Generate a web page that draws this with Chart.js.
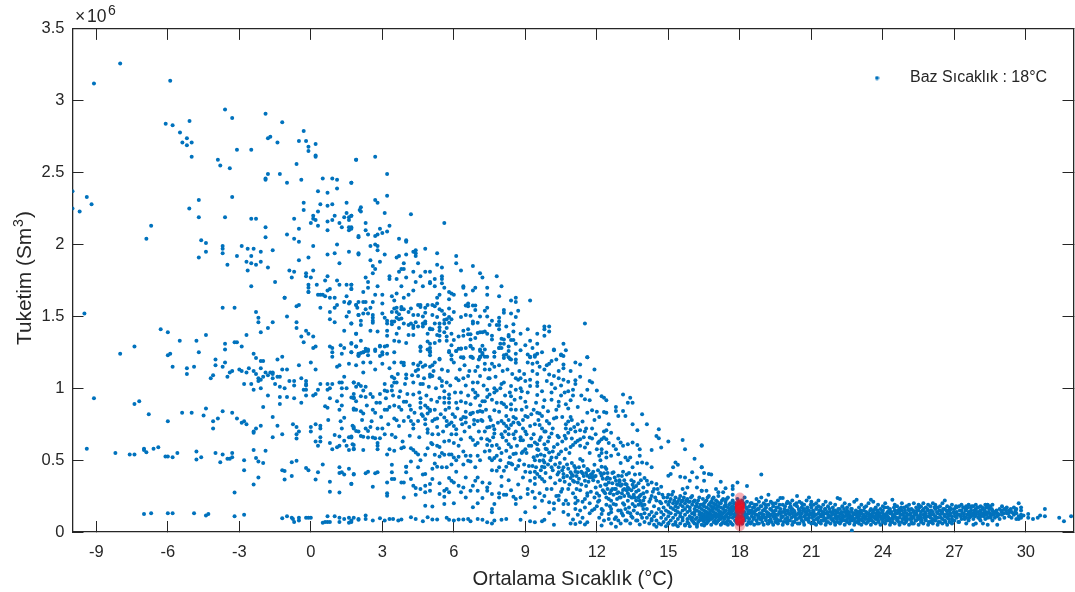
<!DOCTYPE html>
<html>
<head>
<meta charset="utf-8">
<style>
  html, body { margin: 0; padding: 0; background: #fff; }
  canvas { display: block; }
</style>
<script src="https://cdn.jsdelivr.net/npm/chart.js@4"></script>
</head>
<body>
<canvas id="scatterChart" width="1075" height="592"></canvas>
<script>
// Tick labels
const tempTicks = [-9, -6, -3, 0, 3, 6, 9, 12, 15, 18, 21, 24, 27, 30];
const consTicks = [0, 0.5, 1, 1.5, 2, 2.5, 3, 3.5];

// Points are [mean temperature in C, consumption in 10^6 Sm3]
const coldTop = [[-8,3.26],[-9.1,3.12],[-5.9,3.14],[-6.09,2.84],[-5.8,2.83],[-5.09,2.86],[-5.49,2.78],[-5.2,2.74],[-5.39,2.71],[-5.2,2.69],[-5,2.71],[-5,2.61],[-3.6,2.94],[-3.3,2.88],[-3.9,2.59],[-3.8,2.55],[-3.4,2.53],[-3.1,2.66],[-2.5,2.66],[-1.9,2.91],[-1.2,2.85],[-1.8,2.74],[-1.7,2.75],[-1.4,2.71],[-1.9,2.46],[-1.9,2.45],[-1.8,2.49],[-1.3,2.49],[-1,2.43],[-0.6,2.56],[-0.4,2.45],[-0.3,2.79],[-0.5,2.72],[-0.2,2.72],[-0.1,2.68],[-0.1,2.65],[0.2,2.7],[0.2,2.62],[0.2,2.61],[0.5,2.46],[0.9,2.46],[1.1,2.45],[1.7,2.43],[1.9,2.59],[-10,2.37],[-10,2.25],[-9.7,2.23],[-9.4,2.33],[-9.2,2.28],[-6.9,2.04],[-6.7,2.13],[-5.1,2.25],[-4.7,2.31],[-4.7,2.19],[-3.6,2.19],[-3.3,2.33],[-2.5,2.18],[-2.3,2.18],[-1.9,2.12],[-1.9,2.05],[-4.6,2.03],[-4.4,2.01],[-4.4,1.95],[-4.7,1.91],[-3.7,1.99],[-3.7,1.97],[-3.7,1.94],[-3.1,1.92],[-3.5,1.86],[-2.9,1.99],[-2.65,1.97],[-2.4,1.97],[-2.1,1.95],[-1.6,1.96],[-2.5,1.92],[-2.7,1.88],[-2.5,1.87],[-2.3,1.86],[-2.1,1.88],[-2.65,1.82],[-1.8,1.84],[-2.5,1.71],[-1.5,1.74],[-1.1,1.63],[-1,2.07],[-0.7,2.04],[-0.5,2.02],[-0.5,2.11],[-0.7,2.18],[0.1,1.99],[-0.1,1.91],[-0.5,1.89],[-0.9,1.82],[-0.7,1.81],[-0.8,1.77],[-0.2,1.8],[-0.2,1.78],[0,1.77],[0.1,1.82],[0.25,1.72],[-0.1,1.72],[-0.1,1.7],[-0.1,1.67],[-0.3,2.29],[-0.3,2.24],[0.3,2.37],[0.7,2.36],[1.1,2.39],[0.7,2.27],[0.4,2.28],[0.9,2.28],[0.3,2.23],[1.5,2.29],[1.5,2.22],[2.05,2.24],[0.1,2.2],[0.1,2.18],[0.2,2.17],[0,2.15],[0.3,2.13],[0.7,2.16],[1,2.2],[0.9,2.17],[1.2,2.15],[1.3,2.12],[0.7,2.1],[1.4,2.19],[1.6,2.19],[1.7,2.2],[1.6,2.17],[1.6,2.12],[1.7,2.11],[1.6,2.1],[2,2.05],[1.1,2],[1,1.94],[0.7,1.93],[1.6,1.95],[2,1.93],[1.2,1.87],[0.7,1.78],[0.6,1.75],[1.1,1.75],[1.5,1.72],[1.7,1.72],[1.7,1.69],[1.2,1.72],[0.8,1.69],[0.7,1.68],[0.3,1.65],[0.4,1.65],[0.5,1.65],[0.6,1.64],[0.8,1.63],[1,1.63],[1.5,1.64]];

const coldMiddle = [[-9.5,1.52],[-6.3,1.41],[-6,1.39],[-5.5,1.33],[-4.8,1.33],[-4.4,1.37],[-8,1.24],[-7.4,1.29],[-6,1.23],[-5.9,1.24],[-4.7,1.25],[-5.8,1.15],[-5.2,1.14],[-4.9,1.15],[-5.2,1.1],[-3.7,1.56],[-3.2,1.56],[-2.3,1.53],[-2.2,1.49],[-2.2,1.46],[-1.6,1.46],[-1.8,1.42],[-2.1,1.39],[-2.7,1.37],[-3.6,1.31],[-3.2,1.32],[-3.1,1.32],[-2.9,1.29],[-3.6,1.27],[-2.4,1.24],[-2.3,1.21],[-2.1,1.19],[-2,1.19],[-4,1.2],[-4,1.16],[-3.6,1.18],[-3.7,1.15],[-3,1.13],[-2.9,1.12],[-2.6,1.14],[-2.7,1.11],[-2.4,1.12],[-2.3,1.1],[-2.1,1.14],[-3.4,1.11],[-3.3,1.12],[-3.5,1.08],[-4.1,1.09],[-4.2,1.07],[-1.4,1.2],[-1.2,1.22],[-1.2,1.13],[-1,1.13],[-1.9,1.11],[-1.7,1.11],[-1.6,1.11],[-1.8,1.09],[-1.6,1.1],[-1.4,1.08],[-1.3,1.08],[-2,1.08],[-2.2,1.07],[-2.1,1.06],[-2.2,1.05],[-1.6,1.07],[-2.8,1.03],[-2.5,1.03],[-2.4,0.99],[-2.1,1],[-1.5,1.03],[-1.3,1.01],[-1.1,1],[-0.9,1.05],[-0.7,1.05],[-0.7,1.02],[-0.4,1.07],[-0.2,1.05],[-0.2,1.03],[-0.2,1.02],[-0.3,0.99],[-0.2,0.99],[-0.2,0.95],[0.1,0.95],[0.2,0.96],[0.3,0.99],[0.4,1.03],[-0.5,1.16],[0,1.18],[0.2,1.13],[-1,1.5],[-1.1,1.63],[-0.6,1.57],[-0.5,1.58],[-0.6,1.46],[-0.6,1.42],[-0.2,1.4],[-0.1,1.38],[-0.4,1.36],[0.1,1.36],[-0.3,1.32],[0.1,1.28],[0.2,1.29],[-0.1,1.67],[-1.8,0.95],[-1,0.94],[-1.3,0.94],[-1.3,0.89],[-0.7,0.93],[-0.4,0.9],[-2,0.87],[-9.1,0.93],[-7.2,0.91],[-7.4,0.89],[-6.8,0.82],[-6,0.77],[-5.4,0.83],[-5,0.83],[-4.5,0.81],[-4.4,0.86],[-4.1,0.77],[-4.1,0.72],[-3.9,0.79],[-3.7,0.84],[-3.3,0.83],[-3.1,0.79],[-2.9,0.76],[-2.8,0.77],[-2.7,0.75],[-2.1,0.74],[-2.3,0.72],[-2.4,0.7],[-2.4,0.69],[-1.6,0.8],[-1.4,0.74],[-1.6,0.66],[-1.2,0.68],[-0.75,0.75],[-0.6,0.73],[-0.5,0.7],[-0.6,0.68],[-0.6,0.65],[0,0.73],[0.2,0.75],[0,0.7],[0.4,0.74],[0.4,0.72],[0.4,0.66],[0.2,0.63],[0.4,0.63],[0.3,0.6]];

const coldLower = [[-9.4,0.58],[-8.2,0.55],[-7.6,0.54],[-7.4,0.54],[-7,0.58],[-7,0.57],[-6.9,0.555],[-6.6,0.58],[-6.4,0.59],[-6.1,0.525],[-6,0.525],[-5.8,0.52],[-5.6,0.55],[-4.8,0.56],[-4.8,0.505],[-4.6,0.52],[-4,0.55],[-3.7,0.54],[-3.8,0.485],[-3.5,0.51],[-3.4,0.51],[-3.3,0.55],[-3.3,0.52],[-2.8,0.5],[-2.8,0.43],[-2.4,0.57],[-1.9,0.565],[-2.3,0.515],[-2.2,0.49],[-2,0.48],[-2.2,0.38],[-2.4,0.33],[-3.2,0.275],[-1.2,0.43],[-1.1,0.425],[-1.1,0.365],[-0.8,0.39],[-0.8,0.485],[-0.6,0.495],[-0.2,0.445],[-0.1,0.43],[0.3,0.415],[0.5,0.47],[0.2,0.365],[0.8,0.35],[0.8,0.28],[1.2,0.275],[-7,0.125],[-6.7,0.13],[-6,0.13],[-5.8,0.13],[-4.9,0.13],[-4.4,0.115],[-4.3,0.125],[-3.2,0.11],[-2.8,0.12],[-1.2,0.095],[-1,0.11],[-0.8,0.1],[-0.75,0.09],[-0.7,0.07],[-0.5,0.1],[-0.5,0.08],[-0.2,0.1],[-0.1,0.1],[0,0.1],[0.5,0.065],[0.6,0.07],[0.7,0.07],[0.8,0.07],[0.7,0.11],[1,0.11],[1.2,0.1],[1.2,0.07],[1.4,0.09],[1.6,0.1],[1.6,0.065],[1.7,0.07],[1.8,0.1],[2,0.085]];

const nearZero = [[0.8,1.53],[0.8,1.48],[1,1.46],[0.4,1.56],[1,1.56],[1.1,1.58],[1.5,1.5],[1.6,1.53],[1.6,1.59],[1.4,1.6],[1.9,1.58],[2,1.51],[1.7,1.45],[1.4,1.4],[1.9,1.38],[1.7,1.31],[1.25,1.3],[1.4,1.28],[1.9,1.29],[2,1.24],[1.3,1.24],[1.7,1.25],[0.8,1.29],[0.9,1.28],[0.9,1.25],[0.9,1.22],[1.6,1.17],[1.2,1.16],[1.1,1.15],[1.4,1.08],[1.2,1.04],[1.3,1.04],[0.7,1.03],[0.9,1.03],[1.8,1.04],[1.9,1.01],[0.8,1],[0.7,0.99],[1.3,1],[1.5,1],[1.8,0.96],[1.8,0.93],[1.3,0.95],[1.1,0.91],[1.9,0.91],[0.8,0.93],[1.3,0.88],[1.2,0.85],[1.8,0.86],[1.9,0.85],[0.6,0.875],[0.7,0.865],[1.4,0.795],[1.25,0.77],[0.73,0.78],[1.3,0.72],[1.75,0.74],[1.8,0.72],[2,0.7],[1,0.675],[1.2,0.665],[1.4,0.635],[1.6,0.66],[1.7,0.665],[0.8,0.62],[1.2,0.6],[1.1,0.59],[0.9,0.575],[1.5,0.6],[1.8,0.605],[1.6,0.57],[1.8,0.58],[1.2,0.45],[1.6,0.44],[1.2,0.41],[1.3,0.415],[1.4,0.4],[1.8,0.4],[1.7,0.335]];

const mildTop = [[1.9,2.59],[2.7,2.61],[3.2,2.49],[1.7,2.43],[2.7,2.31],[2.8,2.29],[3.2,2.34],[2.1,2.26],[2.1,2.23],[3.1,2.22],[4.2,2.21],[5.6,2.15],[1.7,2.2],[2.3,2.15],[2.3,2.1],[2.9,2.11],[3.3,2.13],[3.2,2.09],[3,2.08],[2.4,2.07],[2,2.06],[2.7,2.06],[2.8,2.07],[1.7,2.12],[3.7,2.04],[4,2.03],[4,2.02],[2.7,2],[2.5,1.99],[2.8,1.99],[2.8,1.96],[4.4,1.96],[4.3,1.95],[4.8,1.97],[4.4,1.94],[4.4,1.92],[3.1,1.93],[2,1.94],[4,1.93],[3.7,1.92],[3.6,1.91],[5.3,1.94],[6.1,1.92],[6.1,1.87],[2.5,1.89],[2.9,1.88],[2.6,1.85],[2.7,1.83],[3.9,1.87],[4.5,1.87],[3.8,1.83],[3.9,1.83],[3.7,1.81],[4.3,1.81],[4.8,1.81],[5,1.81],[5.3,1.86],[5.5,1.84],[6.3,1.82],[6.8,1.85],[7.1,1.8],[7.2,1.77],[7.8,1.78],[2.6,1.8],[2.3,1.77],[3.3,1.78],[3.3,1.76],[3.6,1.76],[4,1.77],[4.6,1.78],[5.2,1.76],[5.5,1.78],[5.5,1.76],[4.4,1.74],[5,1.74],[5,1.73],[5.5,1.73],[5.2,1.71],[2.4,1.74],[2.4,1.7],[2.8,1.71],[1.7,1.72],[1.7,1.69],[3.8,1.71],[4.7,1.71],[5.6,1.7],[6.4,1.71],[6.4,1.7],[6.9,1.7],[6.8,1.68],[7.4,1.7],[8,1.71],[5.8,1.67],[5.9,1.66],[6,1.65],[6.5,1.65],[7.4,1.65],[7.9,1.64],[8.6,1.63],[8.6,1.6],[8.4,1.61],[9.2,1.61],[2.2,1.67],[2.7,1.65],[3,1.65],[3.4,1.64],[3.6,1.66],[3.9,1.63],[4.1,1.65],[4.3,1.68],[5.3,1.63],[5.4,1.65],[5.8,1.62]];

const mildUpper = [[3.5,1.61],[3,1.59],[2.2,1.6],[2,1.6],[2.3,1.6],[2.6,1.6],[1.9,1.58],[1.95,1.56],[1.64,1.6],[2.3,1.55],[2.5,1.56],[2.2,1.52],[2.4,1.52],[2,1.51],[3,1.52],[3.1,1.49],[2.6,1.51],[2.6,1.49],[2.6,1.47],[2.6,1.455],[2.1,1.47],[2.1,1.44],[1.7,1.45],[3.2,1.47],[3.2,1.45],[3.4,1.465],[3.5,1.465],[3.4,1.445],[3.5,1.555],[3.6,1.56],[3.8,1.565],[3.8,1.55],[3.9,1.55],[4.2,1.555],[3.6,1.53],[3.7,1.515],[3.4,1.53],[4.1,1.53],[4.3,1.51],[4.5,1.51],[3.6,1.49],[3.8,1.485],[3.7,1.48],[3.9,1.45],[3.7,1.42],[4.2,1.45],[4.3,1.435],[4.3,1.42],[4.4,1.46],[4.5,1.43],[4.7,1.5],[4.8,1.525],[4.5,1.58],[4.6,1.58],[4.9,1.58],[4.6,1.565],[4.8,1.56],[5.1,1.58],[5.3,1.59],[5.2,1.57],[5.1,1.51],[5.3,1.495],[5.4,1.55],[5.5,1.54],[5.6,1.515],[5.8,1.555],[6,1.53],[5.8,1.495],[5.7,1.48],[5.6,1.475],[5.9,1.48],[5.8,1.455],[5.6,1.45],[5.4,1.45],[5.4,1.425],[5.4,1.4],[5.7,1.42],[4.8,1.465],[4.7,1.45],[4.8,1.45],[4.7,1.43],[5,1.415],[5.1,1.41],[5,1.41],[5.9,1.38],[5.6,1.39],[5.3,1.37],[5.4,1.365],[5.7,1.36],[5.7,1.33],[6,1.335],[6.2,1.36],[6.4,1.4],[6.4,1.365],[6.6,1.41],[6.6,1.375],[6.7,1.375],[6.7,1.34],[6.5,1.575],[6.6,1.59],[6.6,1.57],[6.8,1.575],[6.9,1.575],[6.9,1.545],[6.5,1.51],[6.3,1.495],[6.7,1.505],[7.1,1.5],[7.3,1.54],[7.4,1.56],[7.4,1.5],[6.8,1.465],[6.8,1.45],[7,1.455],[7,1.385],[7.1,1.39],[7.2,1.39],[7.3,1.395],[7.4,1.38],[7.6,1.365],[7.6,1.34],[7.9,1.49],[7.9,1.465],[7.8,1.44],[7.9,1.44],[7.9,1.41],[8.1,1.545],[8.1,1.525],[8.4,1.52],[8.7,1.54],[8.6,1.495],[8.5,1.445],[8.5,1.395],[8.3,1.37],[8.3,1.36],[8,1.345],[8.1,1.34],[8.4,1.335],[8.5,1.335],[8.6,1.31],[7.95,1.31],[8.1,1.31],[7.9,1.28],[8,1.28],[8.3,1.29],[8.3,1.26],[8.8,1.265],[8.6,1.24],[9.1,1.41],[9.1,1.235],[9.5,1.38],[9.8,1.43],[10,1.43],[9.8,1.41],[10,1.395],[9.8,1.365],[9.5,1.31],[10.2,1.27],[10.6,1.31],[10.7,1.265],[10.5,1.235],[10.6,1.225],[11.5,1.45],[11.6,1.215],[9.5,1.24],[9.2,1.215],[9.4,1.22]];

const mildShoulder = [[1.7,1.315],[1.9,1.29],[2.1,1.33],[1.7,1.25],[2,1.225],[2.2,1.25],[2.3,1.275],[2.4,1.26],[2.4,1.23],[2.7,1.26],[2.9,1.295],[2.9,1.225],[3,1.25],[3.2,1.295],[3.2,1.24],[3.5,1.25],[3.5,1.33],[3.7,1.325],[4,1.315],[4.1,1.37],[4.3,1.37],[2.8,1.395],[1.9,1.38],[3.2,1.4],[3.2,1.365],[4.6,1.29],[4.6,1.26],[4.9,1.325],[5,1.31],[5.2,1.315],[5.4,1.33],[4.9,1.27],[5,1.26],[5,1.23],[5.8,1.25],[6.1,1.26],[6.2,1.275],[6.3,1.275],[6.5,1.28],[6.7,1.295],[6.8,1.275],[7.1,1.27],[7.2,1.295],[7.3,1.27],[7.2,1.245],[7.7,1.25],[7.7,1.22],[7.4,1.22],[7.1,1.22],[6.7,1.22],[6.8,1.21],[6.3,1.215],[6.4,1.215],[5.4,1.205],[5.9,1.2],[8.1,1.21],[8.2,1.235],[8.35,1.205],[8.6,1.2]];

const midHigh = [[2,1.23],[2.1,1.246],[2.2,1.25],[2.3,1.26],[2.4,1.27],[2.7,1.27],[2.9,1.29],[3,1.235],[3.1,1.29],[2.2,1.18],[2.5,1.18],[1.9,1.16],[2.7,1.13],[2.2,1.11],[3,1.17],[3.3,1.14],[3.5,1.18],[3.8,1.18],[3.9,1.177],[3.9,1.16],[4.3,1.17],[4.6,1.18],[4.5,1.16],[4.5,1.13],[4.7,1.15],[4.8,1.16],[5,1.15],[5.2,1.18],[5.1,1.16],[5.4,1.2],[5,1.28],[5,1.25],[4.6,1.285],[5.9,1.23],[5.8,1.26],[6.1,1.26],[6.3,1.276],[6.4,1.21],[6.7,1.29],[6.75,1.22],[7.1,1.26],[7.2,1.235],[7.3,1.22],[7.1,1.216],[7.7,1.25],[7.9,1.28],[8.1,1.23],[8.3,1.216],[8.4,1.2],[8.6,1.177],[9.2,1.22],[9.4,1.23],[9.1,1.18],[9.3,1.17],[9.5,1.18],[10,1.17],[10.1,1.19],[10.2,1.265],[10.5,1.23],[10.6,1.165],[10.6,1.14],[11.6,1.215],[11.1,1.18],[11.3,1.165],[11.9,1.13],[9.9,1.16],[2.1,1.015],[2.3,1.01],[1.8,1.04],[2,1.03],[2.2,0.985],[1.8,0.935],[2.1,0.945],[2.3,0.94],[2.5,0.96],[2.6,0.94],[2.9,0.96],[2.9,0.9],[3.1,1.03],[3.1,0.985],[3.4,1.015],[3.2,0.98],[3.4,0.985],[3.5,1.07],[3.4,1.08],[3.5,1.04],[3.6,1.04],[4.3,1.04],[4,1.096],[4,1.07],[4.6,1.03],[4.7,1.03],[4.5,1.085],[5,1.096],[5,1.08],[5.1,1.085],[5.4,1.07],[5.5,1.05],[5.5,1.015],[5.7,1.04],[6.1,1.07],[6.2,1.055],[6.4,1.07],[6.6,1.085],[6.8,1.04],[7,1.04],[7.1,1.085],[7,1.15],[7.3,1.13],[7.5,1.13],[7.7,1.15],[7.5,1.07],[8.1,1.04],[8.4,1.015],[8.8,1.07],[9,1.05],[9.2,1.06],[9.5,1.04],[9.5,1.015],[9.8,1.13],[10,1.096],[10.2,1.085],[10.4,1.07],[10.6,1.06],[10.8,1.045],[11.1,1.055],[11.1,1.03],[11.7,1.05],[11.8,1.04],[11.6,0.99],[12,0.985],[8.8,1],[8.6,0.99],[9.2,1.015],[10.1,1.03],[10.5,1.02],[10.8,0.98],[8.6,1.07],[8.7,1.06],[8,1.03],[7.7,1],[7.4,0.99]];

const midCentre = [[1.7,0.935],[1.8,0.85],[2.1,0.84],[2.2,0.825],[2.6,0.85],[2.7,0.83],[3.1,0.85],[3.2,0.85],[3.3,0.87],[3.5,0.88],[3.7,0.87],[3.8,0.85],[4.2,0.85],[3.9,0.907],[3.7,0.94],[4,0.907],[4.3,0.957],[4.6,0.93],[4.6,0.9],[4.6,0.865],[4.8,0.88],[4.9,0.865],[5,0.85],[5.3,0.907],[5.4,0.934],[5.6,0.934],[5.6,0.9],[5.8,0.957],[5.8,0.93],[5.8,0.9],[5.8,0.865],[5.2,0.85],[6.1,0.9],[6.3,0.91],[6.5,0.9],[6.7,0.888],[6.9,0.934],[6.9,0.97],[7.2,0.91],[7.3,0.91],[7.5,0.957],[7.7,0.97],[7.8,0.985],[8,0.9],[8.1,0.888],[8.4,0.945],[8.4,0.888],[8.8,0.934],[9,0.907],[9.5,0.953],[9.8,0.916],[10.1,0.97],[10.4,0.907],[10.4,0.877],[10.7,0.888],[10.9,0.916],[11.5,0.923],[11.7,0.916],[12.2,0.945],[12.3,0.934],[12.4,0.916],[13.1,0.957],[13.4,0.934],[13.3,0.9],[13.5,0.9],[11.8,0.847],[12,0.837],[12.3,0.835],[12.4,0.83],[12.8,0.87],[12.8,0.842],[13.1,0.842],[12.9,0.807],[13.2,0.807],[13.9,0.82],[13.5,0.75],[14.1,0.75],[13.7,0.708],[14.6,0.715],[14.5,0.668],[14.6,0.652],[15.6,0.64],[15.7,0.576],[15,0.63],[14.7,0.588],[16.4,0.604],[16.1,0.51],[14.3,0.57],[3.5,0.79],[3.6,0.777],[3.9,0.773],[4.1,0.8],[4.2,0.773],[4.3,0.75],[4.3,0.72],[4.5,0.773],[4.7,0.807],[4.8,0.784],[4.9,0.824],[5,0.842],[5.1,0.773],[5.2,0.784],[5.3,0.79],[4.8,0.75],[4.9,0.715],[4.9,0.69],[5.1,0.68],[3.7,0.738],[3.4,0.676],[3.1,0.68],[2.9,0.652],[3,0.72],[2.8,0.72],[2.5,0.73],[2.4,0.703],[2.3,0.72],[2.1,0.668],[2.2,0.662],[2.4,0.657],[2.6,0.657],[2.7,0.652],[1.8,0.73],[1.9,0.703],[1.7,0.657],[5.6,0.796],[5.7,0.773],[5.8,0.75],[5.9,0.761],[5.7,0.738],[6,0.738],[6.1,0.715],[6.1,0.68],[5.9,0.68],[6.3,0.784],[6.5,0.837],[6.5,0.796],[6.7,0.824],[6.8,0.83],[7,0.837],[7.1,0.842],[7.2,0.837],[7,0.773],[7.2,0.773],[6.5,0.761],[7.4,0.727],[7.5,0.73],[7.3,0.7],[7.7,0.715],[7.7,0.685],[8,0.773],[8.1,0.754],[8.2,0.738],[8.3,0.72],[8.4,0.745],[8.5,0.761],[8.6,0.79],[8.2,0.807],[7.9,0.837],[7.7,0.847],[8.4,0.853],[8.5,0.8],[8.3,0.68],[8.6,0.7],[9,0.807],[9.1,0.8],[8.9,0.72],[9,0.7],[9.2,0.738],[9.4,0.75],[9.6,0.745],[9.7,0.72],[9.5,0.83],[9.6,0.824],[9.7,0.807],[9.9,0.773],[10,0.754],[10.2,0.79],[10.3,0.796],[10.1,0.685],[10.7,0.75],[10.8,0.768],[10.9,0.8],[10.7,0.72],[10.8,0.69],[10.9,0.715],[11.2,0.75],[11.4,0.768],[11.3,0.708],[11.8,0.72],[12.3,0.7],[12.4,0.708],[12.6,0.69],[12.2,0.645],[12.4,0.645],[12.1,0.63],[12.3,0.657]];

const midLow = [[2.2,0.57],[1.75,0.61],[1.8,0.576],[2.8,0.62],[2.8,0.6],[2.8,0.576],[3.3,0.576],[3.2,0.54],[3.5,0.565],[3.8,0.583],[3.9,0.59],[4.2,0.583],[4.3,0.57],[4.4,0.553],[4.5,0.54],[4.6,0.5],[4,0.454],[4.2,0.49],[4.9,0.583],[5.1,0.61],[5.3,0.6],[5.4,0.592],[4.8,0.537],[5.2,0.537],[5.4,0.525],[5.6,0.537],[5.8,0.54],[5.9,0.54],[6,0.518],[6.1,0.5],[6.2,0.523],[5.8,0.634],[5.6,0.63],[6,0.62],[6.3,0.645],[6.5,0.53],[6.7,0.53],[6.6,0.495],[6.7,0.49],[6.4,0.47],[7,0.53],[5.2,0.477],[5.3,0.454],[5.5,0.45],[5.7,0.45],[6.8,0.64],[7,0.62],[6.9,0.606],[6.7,0.657],[7.4,0.645],[7.5,0.634],[7.4,0.606],[7.6,0.6],[7.5,0.565],[7.5,0.514],[7.6,0.5],[7.7,0.514],[7.8,0.53],[8.2,0.634],[8.3,0.61],[8.5,0.542],[8.6,0.546],[8.8,0.638],[8.9,0.638],[9,0.576],[8.2,0.565],[8.4,0.592],[7.9,0.583],[7.8,0.606],[9.4,0.622],[9.5,0.61],[9.5,0.576],[9.5,0.53],[9.4,0.5],[9.6,0.495],[9.8,0.61],[9.9,0.576],[10,0.553],[10.2,0.592],[10.1,0.518],[9.8,0.53],[9.8,0.484],[9.7,0.454],[10.4,0.541],[10.3,0.518],[10.5,0.56],[10.7,0.576],[10.9,0.592],[11.1,0.622],[11.3,0.645],[11,0.606],[11.2,0.634],[11.5,0.588],[11.6,0.615],[11.7,0.657],[12,0.576],[12.2,0.576],[12.4,0.553],[12.6,0.53],[12.4,0.518],[12.1,0.53],[12.8,0.576],[13,0.622],[13.1,0.6],[13.3,0.61],[13.5,0.622],[13.7,0.606],[12.9,0.541],[13.2,0.518],[13.4,0.518],[13.8,0.576],[13.8,0.53],[11.3,0.507],[11.4,0.495],[10.4,0.45],[10.6,0.45],[10.8,0.44],[11.1,0.445],[11.6,0.438],[11.9,0.467],[12.2,0.454],[12.4,0.438],[12.7,0.415],[12.9,0.392],[7.9,0.45],[8.2,0.454],[8.4,0.477],[8.6,0.438],[8.1,0.426],[7.8,0.426],[8,0.385],[9,0.42],[9.3,0.46],[9.2,0.415],[9.4,0.42],[9.5,0.403],[9.6,0.385],[9.7,0.368],[9.8,0.352],[9.4,0.375],[9.2,0.357],[9.4,0.334],[9.8,0.45],[10.1,0.45],[10.4,0.415],[10.6,0.403],[10.6,0.38],[10.9,0.415],[11,0.392],[11.1,0.42],[11.2,0.415],[11.4,0.408],[11.6,0.392],[11.8,0.403],[11.7,0.38],[11.8,0.38],[11.9,0.385],[10.9,0.375],[11,0.357],[11.2,0.345],[11.5,0.357],[12.2,0.392],[12.3,0.408],[12.4,0.368],[12.5,0.345],[12.4,0.329],[12.8,0.357],[12.9,0.329],[13,0.322],[13.2,0.334],[13.3,0.31],[12.8,0.3],[12.6,0.287],[13.1,0.292],[13.5,0.329],[13.8,0.403],[13.9,0.484],[14.1,0.477],[14.3,0.45],[14,0.375],[14.1,0.357],[14.3,0.345],[14.5,0.334],[14.7,0.315],[14.4,0.3],[15,0.392],[15.1,0.403],[15.2,0.45],[15.3,0.484],[15.4,0.467],[15.5,0.385],[15.7,0.38],[15.9,0.357],[16,0.415],[16.4,0.45],[16.2,0.38],[16.5,0.357],[16.7,0.403],[15.8,0.31],[15.6,0.3],[16.2,0.31],[16.4,0.287]];

const midFloor = [[1.8,0.403],[2.3,0.408],[2.4,0.42],[2.7,0.408],[2.8,0.415],[1.7,0.334],[2.6,0.315],[3.4,0.467],[3.4,0.415],[3.4,0.368],[3.5,0.368],[3.2,0.345],[3.2,0.27],[3.2,0.253],[3.9,0.345],[4,0.415],[4,0.454],[4.2,0.368],[3.8,0.345],[4.3,0.322],[4.4,0.306],[4.8,0.403],[4.6,0.3],[4.8,0.322],[4.8,0.276],[5,0.287],[5.1,0.368],[5,0.334],[5.4,0.264],[5.6,0.287],[5.6,0.246],[5.6,0.195],[5.7,0.3],[5.8,0.375],[5.9,0.357],[5.8,0.276],[6,0.345],[6.2,0.322],[6.4,0.31],[6.3,0.276],[6.7,0.287],[6.8,0.322],[6.9,0.357],[7,0.287],[7.2,0.345],[7.4,0.31],[7.2,0.237],[7.4,0.287],[3.9,0.24],[4.8,0.183],[5.1,0.177],[6.8,0.172],[7.6,0.264],[7.9,0.27],[7.9,0.24],[8.1,0.26],[8.2,0.26],[8.5,0.246],[8.6,0.23],[8.8,0.24],[7.7,0.195],[7.6,0.16],[7.6,0.137],[8.6,0.195],[9,0.137],[9.1,0.264],[9.4,0.237],[9.7,0.218],[10,0.207],[10.2,0.2],[10.4,0.253],[10.4,0.223],[10.6,0.195],[10.8,0.195],[10,0.133],[9.4,0.172],[11.1,0.2],[11.2,0.218],[11.1,0.16],[11.3,0.15],[11.7,0.13],[11.8,0.15],[11.9,0.16],[11.5,0.23],[11.6,0.253],[12,0.27],[12.1,0.253],[12.4,0.24],[12.6,0.218],[12.7,0.195],[12.2,0.126],[12.5,0.126],[12.6,0.137],[12.8,0.103],[13,0.15],[13.1,0.114],[13.3,0.137],[13.5,0.195],[13.6,0.24],[13.8,0.218],[13.9,0.183],[13.3,0.218],[12.9,0.276],[1.7,0.08],[2,0.09],[2.3,0.115],[2.3,0.09],[2.6,0.08],[2.9,0.095],[3.1,0.08],[3.3,0.09],[3.45,0.09],[3.67,0.08],[3.8,0.087],[4.2,0.103],[4.4,0.09],[4.7,0.075],[4.9,0.103],[5.1,0.087],[5.3,0.087],[5.7,0.1],[5.8,0.085],[6,0.08],[6.2,0.087],[6.4,0.087],[6.6,0.09],[6.7,0.075],[7,0.09],[7.2,0.085],[7.4,0.068],[7.6,0.06],[7.7,0.08],[8,0.085],[8.2,0.09],[8.8,0.085],[9.2,0.075],[9.4,0.068],[9.7,0.075],[9.8,0.085],[10.2,0.05],[10.9,0.06],[11,0.087],[11.1,0.056],[11.3,0.068],[11.5,0.052],[11.6,0.068],[12.2,0.045],[12.6,0.06],[12.8,0.037],[13,0.06],[13.4,0.06],[13.8,0.052]];

const transitionBand = [[14,0.07],[14,0.13],[14,0.19],[14,0.24],[14.1,0.1],[14.1,0.16],[14.1,0.28],[14.2,0.06],[14.2,0.21],[14.2,0.12],[14.3,0.14],[14.3,0.09],[14.3,0.25],[14.4,0.18],[14.4,0.05],[14.4,0.11],[14.5,0.22],[14.5,0.13],[14.5,0.08],[14.6,0.16],[14.6,0.27],[14.6,0.06],[14.7,0.1],[14.7,0.2],[14.7,0.14],[14.8,0.07],[14.8,0.17],[14.8,0.24],[14.8,0.12],[14.9,0.09],[14.9,0.15],[14.9,0.21],[14.9,0.04],[15,0.11],[15,0.19],[15,0.06],[15,0.26],[15,0.14],[15.1,0.13],[15.1,0.08],[15.1,0.17],[15.1,0.23],[15.2,0.1],[15.2,0.16],[15.2,0.2],[15.2,0.05],[15.2,0.28],[15.3,0.12],[15.3,0.07],[15.3,0.18],[15.3,0.15],[15.3,0.24],[15.4,0.09],[15.4,0.14],[15.4,0.21],[15.4,0.04],[15.4,0.17],[15.5,0.11],[15.5,0.19],[15.5,0.06],[15.5,0.25],[15.5,0.13],[15.6,0.15],[15.6,0.08],[15.6,0.22],[15.6,0.1],[15.6,0.18],[15.7,0.12],[15.7,0.2],[15.7,0.05],[15.7,0.16],[15.7,0.27],[15.8,0.09],[15.8,0.14],[15.8,0.18],[15.8,0.07],[15.8,0.23],[15.9,0.11],[15.9,0.21],[15.9,0.15],[15.9,0.04],[15.9,0.17],[16,0.13],[16,0.08],[16,0.19],[16,0.25],[16,0.1],[16.1,0.16],[16.1,0.06],[16.1,0.22],[16.1,0.12],[16.1,0.14],[16.2,0.1],[16.2,0.18],[16.2,0.05],[16.2,0.2],[16.2,0.15],[16.3,0.12],[16.3,0.08],[16.3,0.17],[16.3,0.24],[16.3,0.14],[16.4,0.09],[16.4,0.19],[16.4,0.16],[16.4,0.05],[16.4,0.11],[16.4,0.13],[16.5,0.15],[16.5,0.07],[16.5,0.2],[16.5,0.12],[16.5,0.18],[16.5,0.1],[16.6,0.11],[16.6,0.17],[16.6,0.06],[16.6,0.22],[16.6,0.14],[16.6,0.09],[16.7,0.13],[16.7,0.19],[16.7,0.08],[16.7,0.16],[16.7,0.25],[16.7,0.1],[16.8,0.12],[16.8,0.05],[16.8,0.18],[16.8,0.15],[16.8,0.21],[16.8,0.09],[16.9,0.14],[16.9,0.07],[16.9,0.2],[16.9,0.11],[16.9,0.17],[16.9,0.24],[17,0.1],[17,0.16],[17,0.06],[17,0.13],[17,0.19],[17,0.22],[17.1,0.12],[17.1,0.08],[17.1,0.18],[17.1,0.15],[17.1,0.25],[17.2,0.09],[17.2,0.14],[17.2,0.2],[17.2,0.05],[17.2,0.17],[17.2,0.11],[17.3,0.13],[17.3,0.07],[17.3,0.16],[17.3,0.23],[17.3,0.1],[17.4,0.11],[17.4,0.19],[17.4,0.06],[17.4,0.15],[17.4,0.21],[17.4,0.18],[17.5,0.08],[17.5,0.13],[17.5,0.17],[17.5,0.05],[17.5,0.24],[17.5,0.1],[17.6,0.12],[17.6,0.16],[17.6,0.07],[17.6,0.2],[17.6,0.14],[17.7,0.1],[17.7,0.18],[17.7,0.05],[17.7,0.22],[17.7,0.15],[17.7,0.26],[17.8,0.13],[17.8,0.08],[17.8,0.17],[17.8,0.11],[17.8,0.2],[17.9,0.09],[17.9,0.15],[17.9,0.06],[17.9,0.19],[17.9,0.23],[17.9,0.12],[18,0.11],[18,0.14],[18,0.07],[18,0.2],[16.4,0.6],[16.4,0.45],[16.5,0.41],[16.8,0.4],[17.2,0.35],[17.7,0.32],[17.7,0.3],[17.9,0.345],[18.3,0.32],[18.9,0.4],[17,0.3],[17.4,0.305],[16.4,0.287],[16.6,0.287],[17.1,0.276],[17.3,0.276],[14.3,0.08],[14.5,0.037],[14.7,0.052],[15,0.06],[15.3,0.052],[15.7,0.045],[16.2,0.037],[16.5,0.045]];

const warmBandA = [[18.1,0.06],[18.1,0.11],[18.1,0.17],[18.1,0.22],[18.2,0.08],[18.2,0.14],[18.2,0.19],[18.2,0.24],[18.3,0.05],[18.3,0.12],[18.3,0.16],[18.3,0.21],[18.4,0.09],[18.4,0.13],[18.4,0.18],[18.5,0.07],[18.5,0.11],[18.5,0.15],[18.5,0.2],[18.6,0.05],[18.6,0.1],[18.6,0.14],[18.6,0.17],[18.7,0.08],[18.7,0.12],[18.7,0.19],[18.7,0.23],[18.8,0.06],[18.8,0.11],[18.8,0.16],[18.8,0.21],[18.9,0.09],[18.9,0.13],[18.9,0.18],[18.9,0.24],[19,0.05],[19,0.12],[19,0.15],[19,0.2],[19.1,0.08],[19.1,0.1],[19.1,0.17],[19.1,0.22],[19.2,0.06],[19.2,0.13],[19.2,0.19],[19.2,0.26],[19.3,0.09],[19.3,0.12],[19.3,0.16],[19.3,0.21],[19.4,0.05],[19.4,0.11],[19.4,0.14],[19.4,0.18],[19.5,0.07],[19.5,0.1],[19.5,0.15],[19.5,0.2],[19.6,0.06],[19.6,0.12],[19.6,0.17],[19.6,0.22],[19.7,0.08],[19.7,0.13],[19.7,0.16],[19.7,0.237],[19.8,0.05],[19.8,0.11],[19.8,0.19],[19.8,0.237],[19.9,0.09],[19.9,0.14],[19.9,0.18],[20,0.06],[20,0.1],[20,0.15],[20,0.21],[20.1,0.08],[20.1,0.12],[20.1,0.17],[20.1,0.2],[20.2,0.05],[20.2,0.13],[20.2,0.16],[20.2,0.22],[20.3,0.07],[20.3,0.11],[20.3,0.14],[20.3,0.19],[20.4,0.09],[20.4,0.12],[20.4,0.18],[20.4,0.25],[20.5,0.06],[20.5,0.1],[20.5,0.15],[20.5,0.21],[20.6,0.08],[20.6,0.13],[20.6,0.17],[20.6,0.2],[20.7,0.05],[20.7,0.11],[20.7,0.16],[20.7,0.19],[20.8,0.09],[20.8,0.12],[20.8,0.14],[20.8,0.22],[20.9,0.07],[20.9,0.1],[20.9,0.15],[20.9,0.24],[21,0.06],[21,0.13],[21,0.17],[21,0.21],[21.1,0.08],[21.1,0.11],[21.1,0.14],[21.1,0.19],[21.2,0.05],[21.2,0.09],[21.2,0.12],[21.2,0.16],[21.2,0.2],[21.3,0.07],[21.3,0.1],[21.3,0.13],[21.3,0.18],[21.3,0.22],[21.4,0.06],[21.4,0.11],[21.4,0.15],[21.4,0.17],[21.5,0.08],[21.5,0.12],[21.5,0.14],[21.5,0.19],[21.6,0.05],[21.6,0.09],[21.6,0.13],[21.6,0.16],[21.6,0.21],[21.7,0.07],[21.7,0.1],[21.7,0.12],[21.7,0.18],[21.8,0.06],[21.8,0.11],[21.8,0.14],[21.8,0.2],[21.9,0.08],[21.9,0.09],[21.9,0.13],[21.9,0.17],[22,0.05],[22,0.1],[22,0.12],[22,0.15],[22,0.19],[22.1,0.07],[22.1,0.11],[22.1,0.14],[22.1,0.237],[22.2,0.06],[22.2,0.09],[22.2,0.13],[22.2,0.16],[22.2,0.23],[22.3,0.08],[22.3,0.1],[22.3,0.12],[22.3,0.18],[22.4,0.05],[22.4,0.11],[22.4,0.14],[22.4,0.2],[22.5,0.07],[22.5,0.09],[22.5,0.13],[22.5,0.15],[22.5,0.17],[22.6,0.06],[22.6,0.1],[22.6,0.12],[22.6,0.19],[22.7,0.01],[22.7,0.08],[22.7,0.11],[22.7,0.14],[22.7,0.16],[22.8,0.05],[22.8,0.09],[22.8,0.13],[22.8,0.21],[22.9,0.07],[22.9,0.1],[22.9,0.12],[22.9,0.225]];

const warmBandB = [[23,0.06],[23,0.08],[23,0.11],[23,0.14],[23,0.17],[23.1,0.05],[23.1,0.09],[23.1,0.13],[23.1,0.19],[23.2,0.07],[23.2,0.1],[23.2,0.12],[23.2,0.15],[23.3,0.06],[23.3,0.11],[23.3,0.14],[23.3,0.18],[23.4,0.08],[23.4,0.09],[23.4,0.13],[23.4,0.2],[23.5,0.05],[23.5,0.1],[23.5,0.12],[23.5,0.16],[23.5,0.225],[23.6,0.07],[23.6,0.11],[23.6,0.15],[23.6,0.21],[23.7,0.06],[23.7,0.09],[23.7,0.13],[23.7,0.17],[23.8,0.08],[23.8,0.1],[23.8,0.12],[23.8,0.14],[23.8,0.19],[23.9,0.05],[23.9,0.11],[23.9,0.16],[24,0.07],[24,0.09],[24,0.13],[24,0.15],[24,0.18],[24.1,0.06],[24.1,0.1],[24.1,0.12],[24.1,0.2],[24.2,0.08],[24.2,0.11],[24.2,0.14],[24.2,0.17],[24.3,0.05],[24.3,0.09],[24.3,0.13],[24.3,0.16],[24.4,0.07],[24.4,0.1],[24.4,0.12],[24.4,0.225],[24.5,0.06],[24.5,0.11],[24.5,0.15],[24.5,0.19],[24.6,0.08],[24.6,0.09],[24.6,0.13],[24.6,0.18],[24.7,0.05],[24.7,0.1],[24.7,0.14],[24.7,0.16],[24.8,0.07],[24.8,0.12],[24.8,0.15],[24.8,0.2],[24.9,0.06],[24.9,0.09],[24.9,0.11],[24.9,0.17],[25,0.08],[25,0.1],[25,0.13],[25,0.18],[25.1,0.05],[25.1,0.12],[25.1,0.15],[25.1,0.19],[25.2,0.07],[25.2,0.09],[25.2,0.11],[25.2,0.16],[25.3,0.06],[25.3,0.1],[25.3,0.14],[25.3,0.2],[25.4,0.08],[25.4,0.12],[25.4,0.13],[25.4,0.17],[25.5,0.05],[25.5,0.09],[25.5,0.11],[25.5,0.15],[25.5,0.19],[25.6,0.07],[25.6,0.1],[25.6,0.14],[25.6,0.18],[25.7,0.06],[25.7,0.12],[25.7,0.16],[25.7,0.2],[25.8,0.08],[25.8,0.09],[25.8,0.13],[25.8,0.17],[25.9,0.05],[25.9,0.11],[25.9,0.15],[25.9,0.19],[26,0.07],[26,0.1],[26,0.12],[26,0.18],[26.1,0.06],[26.1,0.09],[26.1,0.14],[26.1,0.2],[26.2,0.08],[26.2,0.11],[26.2,0.16],[26.2,0.19],[26.3,0.05],[26.3,0.1],[26.3,0.13],[26.3,0.17],[26.4,0.07],[26.4,0.12],[26.4,0.15],[26.4,0.18],[26.5,0.06],[26.5,0.09],[26.5,0.14],[26.5,0.2],[26.6,0.08],[26.6,0.11],[26.6,0.16],[26.6,0.22],[26.7,0.05],[26.7,0.1],[26.7,0.13],[26.7,0.18],[26.8,0.07],[26.8,0.12],[26.8,0.15],[26.8,0.17],[26.9,0.06],[26.9,0.09],[26.9,0.11],[26.9,0.19],[27,0.08],[27,0.13],[27,0.16],[27.1,0.1],[27.1,0.14],[27.1,0.17],[27.2,0.07],[27.2,0.12],[27.2,0.18],[27.3,0.09],[27.3,0.15],[27.3,0.19],[27.4,0.11],[27.4,0.13],[27.4,0.17],[27.5,0.06],[27.5,0.1],[27.5,0.16],[27.5,0.18],[27.6,0.08],[27.6,0.12],[27.6,0.14],[27.6,0.19],[27.7,0.11],[27.7,0.15],[27.7,0.17],[27.8,0.05],[27.8,0.09],[27.8,0.13],[27.8,0.18],[27.9,0.06],[27.9,0.12],[27.9,0.16],[27.9,0.19],[28,0.1],[28,0.14],[28,0.17],[28.1,0.08],[28.1,0.11],[28.1,0.15],[28.1,0.18],[28.2,0.06],[28.2,0.13],[28.2,0.16],[28.3,0.09],[28.3,0.12],[28.3,0.14],[28.3,0.19],[28.4,0.05],[28.4,0.1],[28.4,0.17],[28.4,0.19],[28.5,0.11],[28.5,0.13],[28.5,0.18],[28.6,0.08],[28.6,0.12],[28.6,0.15],[28.6,0.19],[28.7,0.1],[28.7,0.14],[28.8,0.05],[28.8,0.11],[28.8,0.13],[28.9,0.09],[28.9,0.16],[29,0.12],[29,0.15],[29,0.18],[29.1,0.1],[29.1,0.16],[29.2,0.13],[29.2,0.17],[29.3,0.11],[29.3,0.15],[29.4,0.1],[29.4,0.14],[29.5,0.12],[29.5,0.17],[29.6,0.09],[29.6,0.13],[29.6,0.16],[29.7,0.09],[29.7,0.11],[29.7,0.2],[29.8,0.1],[29.8,0.12],[29.8,0.15],[29.8,0.17],[29.9,0.115],[30.1,0.125],[30.1,0.1],[30.3,0.09],[30.5,0.1],[30.6,0.115],[30.8,0.16],[30.8,0.11],[31.4,0.1],[31.6,0.075],[31.9,0.11]];

// Second pass over the packed areas, between the dots above
const warmFillA = [[18.04,0.1],[18.07,0.15],[18.13,0.08],[18.16,0.2],[18.24,0.12],[18.27,0.17],[18.33,0.1],[18.36,0.07],[18.42,0.15],[18.46,0.2],[18.53,0.13],[18.57,0.09],[18.63,0.19],[18.67,0.15],[18.73,0.06],[18.77,0.1],[18.83,0.13],[18.87,0.18],[18.94,0.07],[18.97,0.15],[19.03,0.1],[19.07,0.19],[19.13,0.14],[19.17,0.06],[19.23,0.11],[19.27,0.16],[19.34,0.07],[19.37,0.2],[19.43,0.13],[19.47,0.09],[19.53,0.17],[19.57,0.12],[19.63,0.08],[19.67,0.19],[19.74,0.1],[19.77,0.14],[19.83,0.07],[19.87,0.16],[19.93,0.12],[19.97,0.2],[20.03,0.08],[20.07,0.13],[20.13,0.18],[20.17,0.1],[20.23,0.07],[20.27,0.15],[20.34,0.12],[20.37,0.2],[20.43,0.06],[20.47,0.16],[20.53,0.13],[20.57,0.1],[20.63,0.19],[20.67,0.07],[20.74,0.14],[20.77,0.12],[20.83,0.17],[20.87,0.08],[20.93,0.12],[20.97,0.19],[21.03,0.1],[21.07,0.15],[21.13,0.06],[21.17,0.12],[21.23,0.17],[21.27,0.09],[21.33,0.15],[21.37,0.12],[21.43,0.08],[21.47,0.13],[21.53,0.1],[21.57,0.16],[21.63,0.07],[21.67,0.14],[21.73,0.11],[21.77,0.16],[21.83,0.09],[21.87,0.12],[21.93,0.15],[21.97,0.07],[22.03,0.13],[22.07,0.09],[22.13,0.16],[22.17,0.11],[22.23,0.07],[22.27,0.14],[22.33,0.1],[22.37,0.16],[22.43,0.08],[22.47,0.12],[22.53,0.11],[22.57,0.14],[22.63,0.08],[22.67,0.16],[22.73,0.1],[22.77,0.12],[22.83,0.07],[22.87,0.15],[22.93,0.14],[22.97,0.09],[23.03,0.12],[23.07,0.15],[23.13,0.08],[23.17,0.11],[23.23,0.17],[23.27,0.09],[23.33,0.13],[23.37,0.07],[23.43,0.11],[23.47,0.15],[23.53,0.08],[23.57,0.13],[23.63,0.1],[23.67,0.16],[23.73,0.11],[23.77,0.15],[23.83,0.07],[23.87,0.13],[23.93,0.09],[23.97,0.14],[24.03,0.11],[24.07,0.17],[24.13,0.08],[24.17,0.13],[24.23,0.1],[24.27,0.15],[24.33,0.07],[24.37,0.14],[24.43,0.09],[24.47,0.17],[24.53,0.13],[24.57,0.1],[24.63,0.15],[24.67,0.07],[24.73,0.12],[24.77,0.17],[24.83,0.09],[24.87,0.13],[24.93,0.15],[24.97,0.07],[25.03,0.12],[25.07,0.16],[25.13,0.09],[25.17,0.13],[25.23,0.06],[25.27,0.15],[25.33,0.12],[25.37,0.08],[25.43,0.15],[25.47,0.1],[25.53,0.17],[25.57,0.12],[25.63,0.08],[25.67,0.15],[25.73,0.1],[25.77,0.14],[25.83,0.11],[25.87,0.16],[25.93,0.07],[25.97,0.13],[26.03,0.15],[26.07,0.08],[26.13,0.12],[26.17,0.17],[26.23,0.1],[26.27,0.14],[26.33,0.07],[26.37,0.15],[26.43,0.1],[26.47,0.13],[26.53,0.16],[26.57,0.12],[26.63,0.07],[26.67,0.15],[26.73,0.11],[26.77,0.09],[26.83,0.13],[26.87,0.16],[26.93,0.08],[26.97,0.14]];

const warmFillB = [[27.03,0.11],[27.07,0.18],[27.13,0.12],[27.17,0.07],[27.23,0.15],[27.27,0.11],[27.33,0.13],[27.37,0.17],[27.43,0.09],[27.47,0.15],[27.53,0.12],[27.57,0.17],[27.63,0.1],[27.67,0.13],[27.73,0.18],[27.77,0.12],[27.83,0.15],[27.87,0.11],[27.93,0.14],[27.97,0.17],[28.03,0.12],[28.07,0.09],[28.13,0.13],[28.17,0.17],[28.23,0.11],[28.27,0.15],[28.33,0.17],[28.37,0.12],[28.43,0.14],[28.47,0.16],[28.53,0.1],[28.57,0.16],[28.63,0.13],[28.67,0.12],[28.77,0.15],[28.87,0.12],[28.97,0.14],[29.07,0.13],[29.17,0.15],[29.27,0.13],[29.37,0.16],[29.47,0.13],[29.57,0.15],[18.12,0.13],[18.22,0.1],[18.35,0.14],[18.45,0.06],[18.55,0.17],[18.65,0.12],[18.75,0.16],[18.85,0.09],[18.95,0.11],[19.05,0.16],[19.15,0.12],[19.25,0.08],[19.35,0.15],[19.45,0.12],[19.55,0.09],[19.65,0.14],[19.75,0.11],[19.85,0.14],[19.95,0.07],[20.05,0.13],[20.15,0.15],[20.25,0.11],[20.35,0.09],[20.45,0.13],[20.55,0.12],[20.65,0.15],[20.75,0.09],[20.85,0.15],[20.95,0.13],[21.05,0.12]];

const transitionFill = [[12.05,0.21],[12.15,0.32],[12.25,0.15],[12.35,0.27],[12.45,0.38],[12.55,0.18],[12.65,0.3],[12.75,0.09],[12.85,0.23],[12.95,0.35],[13.05,0.13],[13.05,0.27],[13.15,0.19],[13.15,0.36],[13.25,0.08],[13.25,0.29],[13.35,0.17],[13.35,0.41],[13.45,0.24],[13.45,0.11],[13.55,0.31],[13.55,0.15],[13.65,0.08],[13.65,0.28],[13.75,0.19],[13.75,0.34],[13.85,0.12],[13.85,0.26],[13.95,0.16],[13.95,0.31],[14.15,0.33],[14.25,0.23],[14.35,0.28],[14.45,0.24],[14.55,0.3],[14.65,0.21],[14.75,0.26],[14.95,0.24],[15.05,0.21],[15.15,0.26],[15.25,0.22],[15.35,0.2],[15.45,0.23],[15.55,0.21],[15.65,0.24],[15.75,0.22],[15.85,0.06],[15.85,0.21],[15.95,0.09],[15.95,0.24],[16.05,0.07],[16.05,0.21],[16.15,0.09],[16.15,0.18],[16.25,0.07],[16.25,0.22],[16.35,0.1],[16.35,0.19],[16.45,0.08],[16.45,0.23],[16.55,0.09],[16.55,0.14],[16.55,0.21],[16.65,0.07],[16.65,0.12],[16.65,0.24],[16.75,0.11],[16.75,0.14],[16.75,0.2],[16.85,0.1],[16.85,0.16],[16.85,0.23],[16.95,0.08],[16.95,0.12],[16.95,0.19],[17.05,0.07],[17.05,0.11],[17.05,0.17],[17.05,0.21],[17.15,0.1],[17.15,0.13],[17.15,0.2],[17.25,0.06],[17.25,0.12],[17.25,0.22],[17.35,0.09],[17.35,0.14],[17.35,0.18],[17.45,0.07],[17.45,0.12],[17.45,0.23],[17.55,0.1],[17.55,0.15],[17.55,0.19],[17.65,0.06],[17.65,0.13],[17.65,0.17],[17.75,0.12],[17.75,0.16],[17.75,0.2],[17.85,0.07],[17.85,0.14],[17.85,0.19],[17.95,0.1],[17.95,0.16],[17.95,0.21]];

const midFill = [[9.05,0.55],[9.15,0.46],[9.25,0.6],[9.35,0.52],[9.45,0.45],[9.55,0.57],[9.65,0.43],[9.65,0.54],[9.75,0.5],[9.85,0.41],[9.85,0.58],[9.95,0.47],[9.95,0.63],[10.05,0.38],[10.05,0.5],[10.15,0.43],[10.15,0.56],[10.25,0.34],[10.25,0.47],[10.35,0.4],[10.35,0.61],[10.45,0.36],[10.45,0.48],[10.55,0.3],[10.55,0.43],[10.65,0.51],[10.65,0.35],[10.75,0.39],[10.75,0.47],[10.85,0.33],[10.85,0.55],[10.95,0.4],[10.95,0.48],[11.05,0.35],[11.05,0.46],[11.15,0.3],[11.15,0.39],[11.25,0.45],[11.25,0.37],[11.35,0.42],[11.35,0.33],[11.45,0.39],[11.45,0.46],[11.55,0.41],[11.55,0.32],[11.65,0.35],[11.65,0.43],[11.75,0.4],[11.75,0.28],[11.85,0.36],[11.85,0.42],[11.95,0.31],[11.95,0.39],[12.05,0.43],[12.05,0.35],[12.15,0.41],[12.15,0.5],[12.25,0.37],[12.25,0.29],[12.35,0.45],[12.35,0.33],[12.45,0.3],[12.45,0.41],[12.55,0.37],[12.55,0.27],[12.65,0.41],[12.65,0.34],[12.75,0.38],[12.75,0.3],[12.85,0.33],[12.85,0.27],[12.95,0.36],[12.95,0.24],[13.05,0.33],[13.05,0.39],[13.15,0.3],[13.15,0.25],[13.25,0.33],[13.25,0.4],[13.35,0.3],[13.35,0.25],[13.45,0.36],[13.45,0.29],[13.55,0.26],[13.55,0.35],[13.65,0.32],[13.65,0.22],[13.75,0.24],[13.75,0.29],[13.85,0.36],[13.85,0.2],[13.95,0.27],[13.95,0.22],[8.65,0.6],[8.75,0.5],[8.85,0.55],[8.95,0.47],[8.35,0.52],[8.45,0.47],[8.55,0.65],[7.95,0.5],[8.05,0.66],[8.15,0.7],[8.75,0.75],[8.85,0.85],[9.05,0.68],[9.25,0.65],[9.35,0.85],[9.65,0.66],[9.85,0.7],[10.35,0.67],[10.55,0.63],[10.65,0.67],[10.95,0.65],[11.05,0.73],[11.45,0.66],[11.55,0.72],[11.95,0.68],[6.35,0.75],[6.45,0.7],[6.65,0.73],[6.85,0.75],[7.05,0.7],[7.15,0.65],[7.55,0.78],[7.65,0.66],[5.05,0.62],[5.35,0.68],[5.55,0.7],[6.05,0.8],[4.55,0.66],[4.15,0.67],[3.85,0.63]];

const midSpread = [[10.1,0.3],[10.3,0.25],[10.5,0.28],[10.7,0.22],[10.8,0.3],[11,0.27],[11.1,0.24],[11.3,0.29],[11.4,0.21],[11.5,0.17],[11.6,0.27],[11.7,0.2],[11.9,0.24],[12,0.18],[12.1,0.22],[12.2,0.16],[12.3,0.28],[12.4,0.19],[12.5,0.23],[12.6,0.16],[12.7,0.26],[12.8,0.19],[12.9,0.15],[13,0.24],[13.1,0.2],[13.2,0.16],[13.3,0.27],[13.4,0.13],[13.5,0.24],[13.6,0.18],[13.7,0.13],[13.8,0.25],[13.9,0.1],[9.1,0.3],[9.3,0.28],[9.6,0.27],[9.8,0.25],[9.9,0.3],[10.2,0.16],[10.6,0.14],[10.8,0.12],[11.2,0.12],[11.4,0.1],[12.1,0.1],[12.3,0.08],[12.5,0.09],[12.9,0.08],[13.2,0.08],[13.5,0.1],[13.7,0.08],[2.15,0.78],[2.35,0.88],[2.55,0.77],[2.75,0.9],[2.95,0.8],[3.15,0.93],[3.25,0.75],[3.45,0.95],[3.55,0.66],[3.65,1.1],[3.75,0.98],[3.95,1.03],[4.05,0.96],[4.15,0.88],[4.25,1.09],[4.35,0.83],[4.4,1.12],[4.55,0.97],[4.65,0.82],[4.75,1.07],[4.85,0.95],[4.95,1.01],[5.05,0.92],[5.15,1.12],[5.25,1],[5.3,0.73],[5.45,0.82],[5.5,1.13],[5.6,0.98],[5.65,0.85],[5.75,1.12],[5.85,1.02],[5.95,0.82],[6,1.18],[6.05,0.97],[6.15,0.86],[6.25,1.13],[6.3,0.97],[6.4,0.8],[6.45,1.16],[6.5,1.02],[6.6,0.95],[6.65,1.12],[6.7,0.82],[6.8,0.99],[6.85,0.78],[6.9,1.12],[7,0.95],[7.05,1.2],[7.1,0.88],[7.15,0.78],[7.25,1.02],[7.3,1.17],[7.35,0.85],[7.4,0.94],[7.45,1.07],[7.5,0.8],[7.6,1.17],[7.6,0.92],[7.65,0.74],[7.75,1.08],[7.8,0.9],[7.85,0.76],[7.9,1.16],[7.95,1],[8,0.68],[8.05,1.12],[8.15,0.95],[8.2,0.87],[8.25,1.13],[8.3,0.78],[8.35,0.97],[8.45,1.1],[8.5,0.68],[8.55,0.92],[8.6,0.85],[8.7,0.76],[8.75,1.12],[8.8,0.66],[8.85,0.98],[8.9,0.78],[8.95,1.1],[9.05,0.87],[9.1,0.97],[9.15,0.6],[9.25,0.82],[9.3,1.12],[9.35,0.68],[9.45,0.9],[9.5,1.1],[9.55,0.78],[9.6,0.64],[9.7,0.98],[9.75,0.87],[9.8,0.7],[9.9,1.05],[9.95,0.84],[10,0.66],[10.1,0.92],[10.15,0.72],[10.25,1],[10.3,0.85],[10.4,0.66],[10.5,0.95],[10.55,0.8],[10.65,0.97],[10.7,0.65],[10.8,0.86],[10.95,0.78],[11,0.99],[11.1,0.7],[11.2,0.87],[11.3,0.6],[11.35,0.95],[11.5,0.7],[11.6,0.83],[11.7,0.55],[11.8,0.65],[11.9,0.78],[12.05,0.62],[12.1,0.8],[12.2,0.55],[12.5,0.62],[12.5,0.75],[12.7,0.6],[12.9,0.65],[13,0.48],[13.1,0.42],[13.3,0.5],[13.5,0.45],[13.6,0.4],[13.7,0.48],[5.5,0.55],[5.9,0.47],[6.2,0.6],[6.4,0.56],[6.9,0.45],[7.1,0.5],[7.3,0.56],[7.6,0.43],[8,0.55],[8.3,0.48],[8.7,0.46],[8.9,0.56],[5.1,0.44],[4.7,0.4],[4.5,0.45],[6.1,0.42],[6.5,0.38],[7,0.38],[7.5,0.34],[8.3,0.36],[8.7,0.33],[8.9,0.38],[5.4,0.34],[4.4,0.26],[6,0.2],[6.5,0.24],[7,0.2],[8,0.32],[8.4,0.29],[2.5,1.4],[3.6,1.38],[4.1,1.44],[4.9,1.38],[5.2,1.45],[5.9,1.3],[6.9,1.35],[7.5,1.44],[7.6,1.47],[8.2,1.43],[8.8,1.38],[9.2,1.33],[9.3,1.28],[9,1.3],[9.6,1.15],[9.7,1.25],[10.3,1.2],[10.4,1.12],[10.9,1.12],[11.3,1.08],[11,0.95]];

// Days that sit exactly on the base temperature
const baseTemp = 18;
const baseCons = [0.24, 0.2, 0.195, 0.19, 0.185, 0.18, 0.175, 0.17, 0.165, 0.16, 0.155, 0.15, 0.14, 0.095, 0.09, 0.085, 0.08, 0.075, 0.07, 0.04];

const allPoints = [].concat(coldTop, coldMiddle, coldLower, nearZero, mildTop, mildUpper, mildShoulder,
  midHigh, midCentre, midLow, midFloor, transitionBand, warmBandA, warmBandB,
  warmFillA, warmFillB, transitionFill, midFill, midSpread);

const TEXT = "#262626";
const BLUE = "#0072BD";
const FONT = "'Liberation Sans', Arial, sans-serif";

// small dot used as the legend key, a canvas so the wide key box does not stretch it
const legendDot = document.createElement("canvas");
legendDot.width = 5;
legendDot.height = 5;
const dotCtx = legendDot.getContext("2d");
dotCtx.fillStyle = BLUE;
dotCtx.beginPath();
dotCtx.arc(2.5, 2.5, 2, 0, Math.PI * 2);
dotCtx.fill();

function innerGrid() {
  return {
    drawOnChartArea: false,
    drawTicks: true,
    tickLength: -11,
    tickColor: TEXT,
    tickWidth: 1,
  };
}

function useTicks(values) {
  return function (scale) {
    scale.ticks = values.map(function (v) {
      return { value: v };
    });
  };
}

function plainLabel(value) {
  return String(value);
}

// Axis title with its superscript and the x10^6 factor, both need mixed font sizes
const extraText = {
  id: "extraText",
  beforeDraw(chart) {
    // the legend sits inside the axes, chart.js has no option for this spot
    chart.legend.left = 810;
    chart.legend.top = 28;
  },
  afterDraw(chart) {
    const c = chart.ctx;
    c.save();
    c.fillStyle = TEXT;
    c.textBaseline = "alphabetic";
    c.font = "17.5px " + FONT;
    c.fillText("×", 75, 22);
    c.fillText("10", 87, 22);
    c.font = "14px " + FONT;
    c.fillText("6", 108, 15);

    c.translate(31, 345);
    c.rotate(-Math.PI / 2);
    c.font = "20.8px " + FONT;
    c.fillText("Tuketim (Sm", 0, 0);
    let w = c.measureText("Tuketim (Sm").width;
    c.font = "14px " + FONT;
    c.fillText("3", w + 1, -8);
    c.font = "20.8px " + FONT;
    c.fillText(")", w + 10, 0);
    c.restore();
  },
};

new Chart(document.getElementById("scatterChart"), {
  type: "scatter",
  data: {
    datasets: [
      {
        label: "Baz Sıcaklık : 18°C",
        data: allPoints.map(function (p) {
          return { x: p[0], y: p[1] };
        }),
        backgroundColor: BLUE,
        borderWidth: 0,
        pointRadius: 2,
        pointStyle: "circle",
        order: 2,
      },
      {
        label: "Baz",
        data: baseCons.map(function (v) {
          return { x: baseTemp, y: v };
        }),
        backgroundColor: "rgba(230, 20, 40, 0.35)",
        borderWidth: 0,
        pointRadius: 5,
        order: 1,
      },
    ],
  },
  options: {
    responsive: false,
    animation: false,
    layout: { autoPadding: false, padding: { top: 26, right: 1.5, left: 0.5, bottom: 0 } },
    plugins: {
      tooltip: { enabled: false },
      title: { display: false },
      legend: {
        position: "chartArea",
        align: "start",
        labels: {
          usePointStyle: true,
          pointStyleWidth: 50,
          boxHeight: 5,
          color: TEXT,
          font: { family: FONT, size: 16 },
          padding: 42,
          generateLabels: function (chart) {
            return [
              {
                text: chart.data.datasets[0].label,
                datasetIndex: 0,
                pointStyle: legendDot,
                fillStyle: BLUE,
                fontColor: TEXT,
                lineWidth: 0,
              },
            ];
          },
        },
      },
    },
    scales: {
      x: {
        type: "linear",
        position: "bottom",
        min: -10,
        max: 32,
        afterBuildTicks: useTicks(tempTicks),
        afterFit: function (scale) {
          scale.height = 60;
          scale.paddingLeft = 0;
          scale.paddingRight = 0;
        },
        grid: innerGrid(),
        border: { color: TEXT, width: 1.3 },
        ticks: {
          color: TEXT,
          maxRotation: 0,
          autoSkip: false,
          padding: 22,
          font: { family: FONT, size: 16.5 },
          callback: plainLabel,
        },
        title: {
          display: true,
          text: "Ortalama Sıcaklık (°C)",
          color: TEXT,
          font: { family: FONT, size: 20.2 },
          padding: { top: 0, bottom: 0 },
        },
      },
      xTop: {
        type: "linear",
        position: "top",
        min: -10,
        max: 32,
        afterBuildTicks: useTicks(tempTicks),
        afterFit: function (scale) {
          scale.height = 0;
          scale.paddingLeft = 0;
          scale.paddingRight = 0;
        },
        grid: innerGrid(),
        border: { color: TEXT, width: 1.3 },
        ticks: { display: false },
      },
      y: {
        type: "linear",
        position: "left",
        min: 0,
        max: 3.5,
        afterBuildTicks: useTicks(consTicks),
        afterFit: function (scale) {
          scale.width = 72;
        },
        grid: innerGrid(),
        border: { color: TEXT, width: 1.3 },
        ticks: {
          color: TEXT,
          padding: 19,
          font: { family: FONT, size: 16.5 },
          callback: plainLabel,
        },
      },
      yRight: {
        type: "linear",
        position: "right",
        min: 0,
        max: 3.5,
        afterBuildTicks: useTicks(consTicks),
        afterFit: function (scale) {
          scale.width = 0;
        },
        grid: innerGrid(),
        border: { color: TEXT, width: 1.3 },
        ticks: { display: false },
      },
    },
  },
  plugins: [extraText],
});
</script>
</body>
</html>
